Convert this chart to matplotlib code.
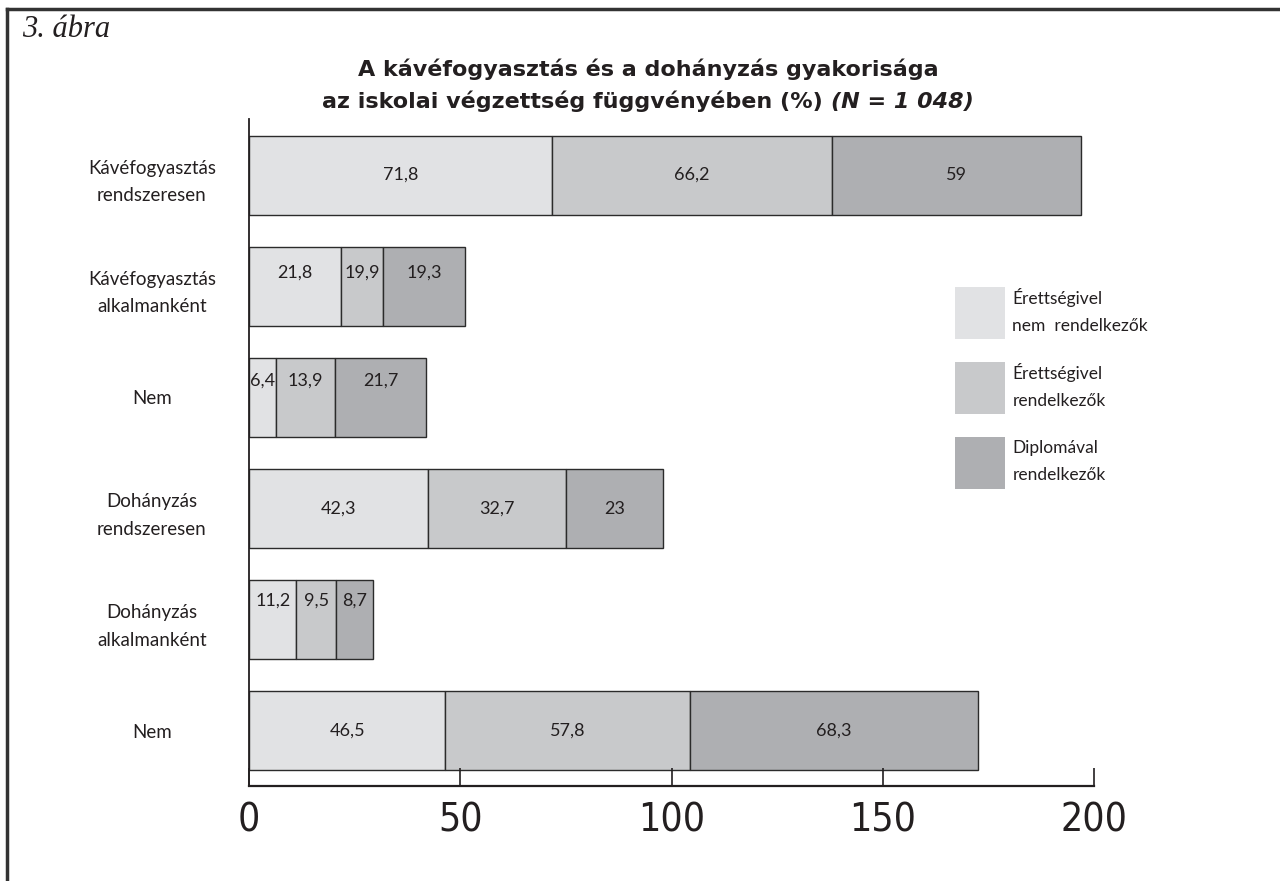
import numpy as np
import matplotlib.pyplot as plt
from matplotlib.patches import Patch

# adatok
kategoriak = ['Kávéfogyasztás\nrendszeresen', 'Kávéfogyasztás\nalkalmanként', 'Nem',
              'Dohányzás\nrendszeresen', 'Dohányzás\nalkalmanként', 'Nem']
nem_erettsegi = [71.8, 21.8, 6.4, 42.3, 11.2, 46.5]
erettsegi = [66.2, 19.9, 13.9, 32.7, 9.5, 57.8]
diploma = [59.0, 19.3, 21.7, 23.0, 8.7, 68.3]
# a rajzolt sávhossz az eredeti ábrán (a 19,9-es sáv ott csak kb. 10 hosszú)
erettsegi_hossz = [66.2, 10.0, 13.9, 32.7, 9.5, 57.8]
sorozatok = ['Érettségivel\nnem  rendelkezők', 'Érettségivel\nrendelkezők', 'Diplomával\nrendelkezők']
x_ticks = [0, 50, 100, 150, 200]

szinek = ['#e1e2e4', '#c8c9cb', '#aeafb2']
# felirat eltolás soronként (kis sávoknál a felirat feljebb van)
felirat_eltolas = [0.0, -0.12, -0.15, 0.0, -0.17, 0.0]

def fmt(v):
  s = ('%.1f' % v).replace('.', ',')
  if s.endswith(',0'):
    s = s[:-2]
  return s

fig = plt.figure(figsize=(12.8, 8.81), dpi=100)
ax = fig.add_axes([249/1280., 1-786/881., (1094-249)/1280., (786-119)/881.])

y = np.arange(len(kategoriak))
bal = np.zeros(len(kategoriak))
txt_col = '#231f20'
for cimke, hossz, szin in zip([nem_erettsegi, erettsegi, diploma],
                              [nem_erettsegi, erettsegi_hossz, diploma], szinek):
  hossz = np.array(hossz)
  ax.barh(y, hossz, left=bal, height=0.71, color=szin, edgecolor='#2b2b2b', linewidth=1.0)
  for i in range(len(hossz)):
    ax.text(bal[i] + hossz[i] / 2.0, y[i] + felirat_eltolas[i], fmt(cimke[i]),
            ha='center', va='center', fontsize=13, family='Lato', color=txt_col)
  bal += hossz

ax.set_xlim(0, 200)
ax.set_ylim(5.495, -0.504)
ax.spines['top'].set_visible(False)
ax.spines['right'].set_visible(False)
ax.spines['left'].set_linewidth(1.3)
ax.spines['bottom'].set_linewidth(1.6)
ax.spines['left'].set_color(txt_col)
ax.spines['bottom'].set_color(txt_col)

ax.set_xticks(x_ticks)
ax.set_xticklabels([str(t) for t in x_ticks], fontsize=28, family='DejaVu Sans',
                   fontstretch='condensed', color=txt_col)
ax.tick_params(axis='x', direction='in', length=13, width=1.2, pad=11, colors=txt_col)

ax.set_yticks(y)
ax.set_yticklabels(kategoriak, fontsize=13.5, family='Lato', color=txt_col, ha='center', linespacing=1.75)
ax.tick_params(axis='y', length=0, pad=70)

# cím
cim_x = 648/1280.
fig.text(cim_x, 1-76/881., 'A kávéfogyasztás és a dohányzás gyakorisága',
         ha='center', va='baseline', fontsize=16, fontweight='bold', family='DejaVu Sans', color=txt_col)
t1 = fig.text(cim_x, 1-108/881., 'az iskolai végzettség függvényében (%) ',
              ha='left', va='baseline', fontsize=16, fontweight='bold', family='DejaVu Sans', color=txt_col)
t2 = fig.text(cim_x, 1-108/881., '(N = 1 048)',
              ha='left', va='baseline', fontsize=16, fontweight='bold', style='italic',
              family='DejaVu Sans', color=txt_col)
r = fig.canvas.get_renderer()
w1 = t1.get_window_extent(r).width / 1280.
w2 = t2.get_window_extent(r).width / 1280.
t1.set_x(cim_x - (w1 + w2) / 2.0)
t2.set_x(cim_x - (w1 + w2) / 2.0 + w1)

fig.text(22/1280., 1-37/881., '3. ábra', fontsize=22, style='italic',
         family='Liberation Serif', color=txt_col)

# keret
fig.add_artist(plt.Line2D([7/1280., 1], [1-9/881., 1-9/881.], color='#333333', linewidth=2.5))
fig.add_artist(plt.Line2D([7/1280., 7/1280.], [0, 1-9/881.], color='#333333', linewidth=2.5))

# jelmagyarázat
kezelok = [Patch(facecolor=c, edgecolor='none') for c in szinek]
leg = fig.legend(kezelok, sorozatok, loc='upper left', bbox_to_anchor=(955/1280., 1-287/881.),
                 frameon=False, borderpad=0, borderaxespad=0,
                 handlelength=2.9, handleheight=4.2, handletextpad=0.4, labelspacing=1.35,
                 prop={'family': 'Lato', 'size': 12.5})
for t in leg.get_texts():
  t.set_linespacing(1.85)
  t.set_color(txt_col)

fig.savefig('out.png', dpi=100)
